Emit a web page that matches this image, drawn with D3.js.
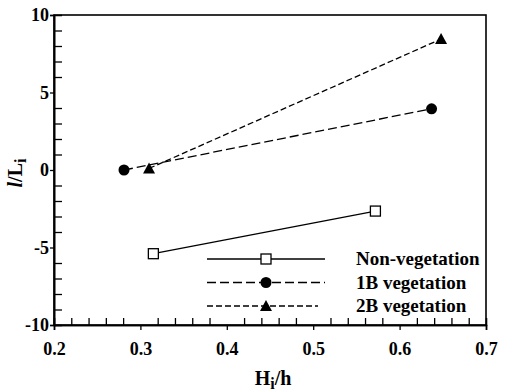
<!DOCTYPE html>
<meta charset="utf-8">
<style>
  body { margin: 0; background: #fff; }
</style>
<svg width="507" height="391"></svg>
<script src="https://cdn.jsdelivr.net/npm/d3@7"></script>
<script>

// data
var seriesNames = ["Non-vegetation", "1B vegetation", "2B vegetation"];
var nonVegX = [0.315, 0.572],
    nonVegY = [-5.4, -2.65];
var veg1BX = [0.281, 0.637],
    veg1BY = [0.0, 3.95];
var veg2BX = [0.310, 0.648],
    veg2BY = [0.1, 8.45];
var xTicks = [0.2, 0.3, 0.4, 0.5, 0.6, 0.7],
    yTicks = [-10, -5, 0, 5, 10];

var FONT = "Liberation Serif";

var svg = d3.select("svg")
    .attr("font-family", FONT)
    .attr("font-weight", "bold"),
    margin = {top: 15, right: 21, bottom: 66, left: 54},
    width = +svg.attr("width") - margin.left - margin.right,
    height = +svg.attr("height") - margin.top - margin.bottom,
    g = svg.append("g").attr("transform", "translate(" + margin.left + "," + margin.top + ")");

var x = d3.scaleLinear().domain([0.2, 0.7]).range([0, width]);
var y = d3.scaleLinear().domain([-10, 10]).range([height, 0]);

var series = [
  {name: seriesNames[0], xs: nonVegX, ys: nonVegY, dash: null, marker: "square"},
  {name: seriesNames[1], xs: veg1BX, ys: veg1BY, dash: "9,4", marker: "circle"},
  {name: seriesNames[2], xs: veg2BX, ys: veg2BY, dash: "6,3", marker: "triangle"}
];

/*
 * Frame round the plot.
 */
g.append("rect")
    .attr("width", width)
    .attr("height", height)
    .attr("fill", "none")
    .attr("stroke", "#000")
    .attr("stroke-width", 1.6);

/*
 * Axes: major ticks point outwards, minor ticks inwards.
 */
g.append("g")
    .attr("transform", "translate(0," + height + ")")
    .call(d3.axisBottom(x).tickValues(xTicks).tickSize(5).tickPadding(12).tickFormat(d3.format(".1f")));
var xMinor = d3.range(0.22, 0.7, 0.02).filter(function(d) { return Math.abs(d * 10 - Math.round(d * 10)) > 1e-6; });
g.append("g")
    .attr("transform", "translate(0," + height + ")")
    .call(d3.axisTop(x).tickValues(xMinor).tickSize(7).tickFormat(""));

g.append("g")
    .call(d3.axisLeft(y).tickValues(yTicks).tickSize(4).tickPadding(1)
      .tickFormat(function(d) { return String(d); }));
var yMinor = d3.range(-9, 10, 1).filter(function(d) { return d % 5 !== 0; });
g.append("g")
    .call(d3.axisRight(y).tickValues(yMinor).tickSize(8).tickFormat(""));

g.selectAll(".domain").attr("stroke", "#000").attr("stroke-width", 1.6);
g.selectAll(".tick line").attr("stroke", "#000").attr("stroke-width", 1.3);
g.selectAll("g").attr("font-family", FONT);
g.selectAll(".tick text")
    .attr("font-family", FONT)
    .attr("font-weight", "bold")
    .attr("font-size", 18)
    .attr("fill", "#000");

/*
 * Axis titles.
 */
var xt = svg.append("text")
    .attr("x", margin.left + width / 2 + 3)
    .attr("y", 385)
    .attr("text-anchor", "middle")
    .attr("font-size", 20);
xt.append("tspan").text("H");
xt.append("tspan").attr("dy", 4).attr("font-size", 16).text("i");
xt.append("tspan").attr("dy", -4).text("/h");

var yt = svg.append("text")
    .attr("transform", "translate(22,173)rotate(-90)")
    .attr("text-anchor", "middle")
    .attr("font-size", 20);
yt.append("tspan").attr("font-style", "italic").text("l");
yt.append("tspan").text("/L");
yt.append("tspan").attr("dy", 4).attr("font-size", 16).text("i");

/*
 * Lines and markers.
 */
var line = d3.line()
    .x(function(d) { return x(d[0]); })
    .y(function(d) { return y(d[1]); });

function drawMarker(sel, type) {
  if (type === "square") {
    sel.append("rect").attr("x", -5).attr("y", -5).attr("width", 10).attr("height", 10)
        .attr("fill", "#fff").attr("stroke", "#000").attr("stroke-width", 1.3);
  } else if (type === "circle") {
    sel.append("circle").attr("r", 5.5).attr("fill", "#000");
  } else {
    sel.append("path").attr("d", "M0,-6L6,5L-6,5Z").attr("fill", "#000");
  }
}

series.forEach(function(s) {
  var pts = s.xs.map(function(v, i) { return [v, s.ys[i]]; });
  g.append("path")
      .datum(pts)
      .attr("d", line)
      .attr("fill", "none")
      .attr("stroke", "#000")
      .attr("stroke-width", 1.3)
      .attr("stroke-dasharray", s.dash);
  pts.forEach(function(p) {
    drawMarker(g.append("g").attr("transform", "translate(" + x(p[0]) + "," + y(p[1]) + ")"), s.marker);
  });
});

/*
 * Legend.
 */
var legend = svg.selectAll(".legend")
    .data(series)
    .enter().append("g")
      .attr("class", "legend")
      .attr("transform", function(d, i) { return "translate(0," + (259 + i * 23.5) + ")"; });

legend.append("line")
    .attr("x1", 207)
    .attr("x2", function(d, i) { return i === 2 ? 318 : 325; })
    .attr("stroke", "#000")
    .attr("stroke-width", 1.3)
    .attr("stroke-dasharray", function(d) { return d.dash; });

legend.each(function(d) {
  drawMarker(d3.select(this).append("g").attr("transform", "translate(266,0)"), d.marker);
});

legend.append("text")
    .attr("x", 356)
    .attr("y", 6)
    .attr("font-size", 19)
    .text(function(d) { return d.name; });
</script>
